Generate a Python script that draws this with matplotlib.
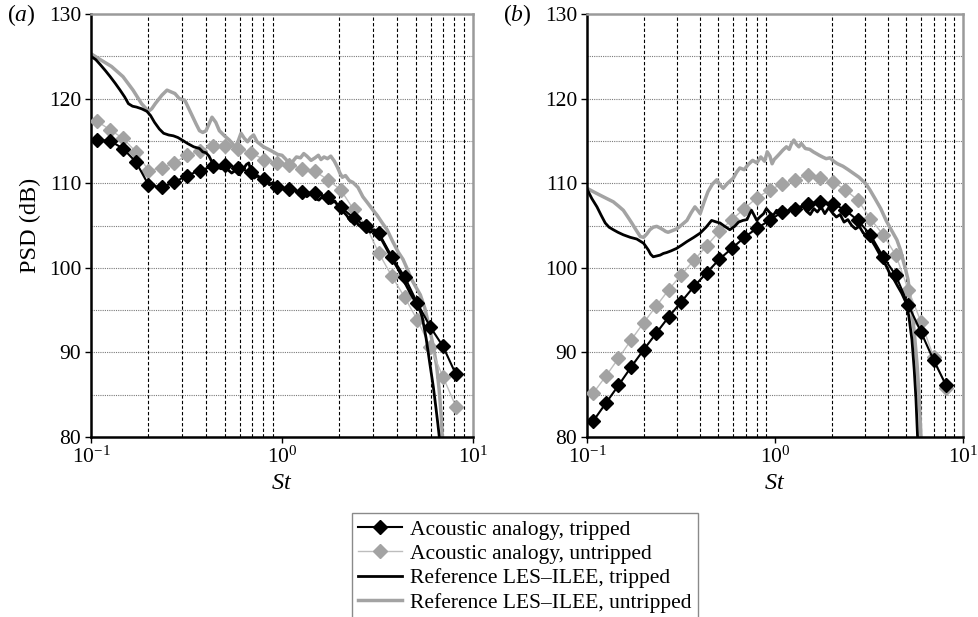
import matplotlib
matplotlib.use('Agg')
import matplotlib.pyplot as plt
from matplotlib.ticker import FixedLocator, LogLocator, NullFormatter

plt.rcParams['font.family'] = ['Liberation Serif', 'DejaVu Serif']
plt.rcParams['mathtext.fontset'] = 'custom'
plt.rcParams['mathtext.rm'] = 'Liberation Serif'
plt.rcParams['mathtext.it'] = 'Liberation Serif:italic'
plt.rcParams['mathtext.bf'] = 'Liberation Serif:bold'

# Strouhal numbers of the acoustic-analogy points (shared by both panels)
st_aa = [0.108, 0.126, 0.147, 0.172, 0.200, 0.234, 0.272, 0.318, 0.371, 0.433,
         0.505, 0.590, 0.688, 0.803, 0.937, 1.09, 1.28, 1.49, 1.74, 2.03,
         2.37, 2.76, 3.22, 3.76, 4.39, 5.12, 5.98, 6.97, 8.14]

# panel (a)
aa_trip_a = [115.1, 115.0, 114.1, 112.5, 109.8, 109.5, 110.1, 110.9, 111.5, 112.0,
             112.2, 111.8, 111.3, 110.5, 109.5, 109.3, 109.0, 108.8, 108.4, 107.2,
             105.9, 104.9, 104.1, 101.3, 98.9, 95.8, 93.0, 90.7, 87.4]
aa_untrip_a = [117.3, 116.3, 115.3, 113.7, 111.5, 111.8, 112.4, 113.3, 113.8, 114.4,
               114.4, 114.1, 113.6, 112.8, 112.4, 112.2, 111.7, 111.4, 110.4, 109.2,
               106.9, 104.9, 101.7, 99.0, 96.5, 93.8, 90.6, 87.1, 83.6]

st_les_trip_a = [0.100, 0.106, 0.112, 0.119, 0.126, 0.134, 0.142, 0.150, 0.157, 0.165,
                 0.173, 0.184, 0.196, 0.205, 0.215, 0.228, 0.240, 0.255, 0.270, 0.285,
                 0.300, 0.320, 0.345, 0.370, 0.385, 0.400, 0.415, 0.430, 0.445, 0.460,
                 0.480, 0.500, 0.520, 0.545, 0.570, 0.600, 0.625, 0.650, 0.670, 0.690,
                 0.715, 0.745, 0.775, 0.800, 0.830, 0.860, 0.900, 0.940, 0.980, 1.02,
                 1.07, 1.12, 1.17, 1.23, 1.29, 1.35, 1.42, 1.49, 1.56, 1.64,
                 1.72, 1.80, 1.89, 1.98, 2.08, 2.18, 2.29, 2.40, 2.52, 2.64,
                 2.77, 2.90, 3.05, 3.20, 3.35, 3.52, 3.70, 3.88, 4.07, 4.27,
                 4.48, 4.70, 4.93, 5.17, 5.42, 5.68, 5.95, 6.20, 6.40, 6.55,
                 6.70, 6.78]
les_trip_a = [125.0, 124.6, 124.0, 123.3, 122.6, 121.8, 121.0, 120.2, 119.4, 119.1,
              119.0, 118.8, 118.5, 118.0, 117.2, 116.4, 115.9, 115.7, 115.6, 115.4,
              115.1, 114.7, 114.3, 114.1, 113.7, 113.6, 113.2, 112.5, 112.0, 111.9,
              111.7, 112.0, 111.6, 111.2, 111.5, 111.0, 111.6, 112.2, 112.4, 111.3,
              110.6, 110.9, 110.3, 111.0, 110.2, 109.8, 110.1, 109.5, 109.8, 109.3,
              109.6, 109.0, 109.2, 108.6, 108.9, 108.4, 108.8, 108.2, 108.0, 108.5,
              107.8, 107.6, 107.9, 107.2, 106.7, 106.2, 105.5, 105.8, 105.0, 105.3,
              104.6, 104.2, 104.5, 103.7, 103.2, 102.3, 101.4, 100.6, 99.8, 98.8,
              97.9, 97.0, 96.2, 95.5, 94.2, 91.7, 88.6, 85.9, 83.4, 81.5,
              79.5, 78.0]

st_les_untrip_a = [0.100, 0.112, 0.128, 0.147, 0.166, 0.184, 0.200, 0.208, 0.217, 0.235,
                   0.250, 0.262, 0.275, 0.290, 0.310, 0.335, 0.355, 0.370, 0.385, 0.400,
                   0.415, 0.430, 0.450, 0.470, 0.500, 0.530, 0.570, 0.590, 0.610, 0.635,
                   0.660, 0.685, 0.710, 0.740, 0.770, 0.800, 0.850, 0.900, 0.950, 1.00,
                   1.05, 1.10, 1.15, 1.19, 1.25, 1.30, 1.35, 1.42, 1.49, 1.55,
                   1.60, 1.66, 1.73, 1.80, 1.88, 1.95, 2.01, 2.07, 2.15, 2.25,
                   2.35, 2.50, 2.65, 2.80, 3.00, 3.15, 3.35, 3.55, 3.80, 4.05,
                   4.30, 4.50, 4.75, 5.00, 5.30, 5.60, 5.90, 6.20, 6.45, 6.65,
                   6.80, 6.95]
les_untrip_a = [125.3, 124.6, 123.8, 122.6, 121.0, 119.4, 118.5, 118.8, 119.4, 120.4,
                121.0, 120.8, 120.6, 120.0, 119.8, 118.2, 117.0, 116.2, 116.0, 116.2,
                117.0, 117.8, 117.2, 116.2, 115.6, 115.1, 114.3, 115.0, 115.9, 115.3,
                114.9, 115.4, 115.7, 114.9, 114.6, 114.3, 114.0, 113.7, 113.4, 113.3,
                112.8, 112.1, 112.7, 113.1, 113.0, 113.5, 113.2, 112.7, 113.0, 113.3,
                112.8, 113.1, 112.9, 113.2, 112.6, 111.9, 111.2, 110.7, 110.9, 110.3,
                110.1, 109.5, 108.4, 107.7, 106.8, 106.2, 105.3, 104.5, 103.1, 101.9,
                101.0, 100.0, 98.7, 97.8, 96.8, 95.2, 93.0, 90.7, 88.4, 85.6,
                82.8, 79.0]

# panel (b)
aa_trip_b = [81.9, 84.0, 86.1, 88.3, 90.3, 92.3, 94.2, 96.0, 97.8, 99.4,
             101.0, 102.3, 103.6, 104.7, 105.6, 106.6, 107.0, 107.6, 107.8, 107.6,
             106.8, 105.6, 103.9, 101.3, 99.1, 95.6, 92.4, 89.1, 86.1]
aa_untrip_b = [85.2, 87.2, 89.3, 91.5, 93.5, 95.5, 97.4, 99.2, 100.9, 102.6,
               104.3, 105.7, 107.0, 108.3, 109.2, 109.9, 110.4, 111.0, 110.6, 110.2,
               109.2, 108.0, 105.8, 103.9, 101.5, 97.4, 93.6, 89.5, 85.8]

st_les_trip_b = [0.100, 0.106, 0.113, 0.119, 0.125, 0.131, 0.138, 0.146, 0.156, 0.170,
                 0.184, 0.200, 0.206, 0.212, 0.218, 0.225, 0.235, 0.245, 0.255, 0.265,
                 0.280, 0.300, 0.320, 0.340, 0.370, 0.400, 0.430, 0.460, 0.490, 0.510,
                 0.540, 0.575, 0.610, 0.640, 0.675, 0.710, 0.730, 0.750, 0.775, 0.800,
                 0.830, 0.870, 0.900, 0.940, 0.980, 1.02, 1.07, 1.12, 1.17, 1.22,
                 1.28, 1.34, 1.40, 1.47, 1.54, 1.61, 1.68, 1.76, 1.84, 1.93,
                 2.02, 2.12, 2.22, 2.33, 2.44, 2.56, 2.68, 2.81, 2.95, 3.10,
                 3.25, 3.40, 3.56, 3.73, 3.91, 4.10, 4.30, 4.50, 4.72, 4.95,
                 5.15, 5.35, 5.50, 5.62, 5.72, 5.80]
les_trip_b = [109.3, 108.2, 107.2, 106.2, 105.3, 104.8, 104.5, 104.2, 103.9, 103.6,
              103.4, 102.9, 102.5, 102.1, 101.6, 101.3, 101.4, 101.5, 101.7, 101.8,
              102.0, 102.3, 102.7, 103.1, 103.6, 104.1, 104.8, 105.6, 105.4, 105.3,
              104.9, 104.5, 104.9, 105.4, 105.6, 105.7, 106.3, 106.8, 106.2, 105.6,
              106.0, 106.4, 107.0, 106.5, 106.2, 106.8, 106.4, 107.0, 106.6, 107.1,
              106.5, 106.9, 107.3, 106.7, 106.3, 107.0, 106.6, 107.2, 106.4, 107.1,
              106.5, 106.0, 106.3, 105.4, 105.7, 105.0, 104.6, 104.9, 104.1, 103.8,
              103.3, 102.6, 101.8, 101.0, 100.2, 99.2, 98.6, 97.8, 97.0, 96.0,
              94.3, 91.5, 88.0, 84.5, 80.5, 77.0]

st_les_untrip_b = [0.100, 0.108, 0.117, 0.127, 0.138, 0.147, 0.156, 0.165, 0.173, 0.182,
                   0.192, 0.200, 0.208, 0.216, 0.225, 0.235, 0.245, 0.254, 0.262, 0.270,
                   0.285, 0.300, 0.320, 0.340, 0.358, 0.375, 0.388, 0.400, 0.420, 0.440,
                   0.465, 0.490, 0.510, 0.530, 0.560, 0.600, 0.625, 0.650, 0.685, 0.720,
                   0.760, 0.800, 0.840, 0.880, 0.910, 0.940, 0.965, 0.990, 1.02, 1.06,
                   1.10, 1.15, 1.19, 1.22, 1.26, 1.30, 1.34, 1.38, 1.45, 1.53,
                   1.60, 1.66, 1.72, 1.79, 1.87, 1.96, 2.05, 2.15, 2.30, 2.45,
                   2.60, 2.80, 3.05, 3.20, 3.40, 3.65, 3.90, 4.15, 4.45, 4.65,
                   4.80, 4.95, 5.10, 5.30, 5.50, 5.70, 5.85, 5.95, 6.02]
les_untrip_b = [109.4, 109.0, 108.6, 108.2, 107.8, 107.3, 106.8, 106.0, 105.3, 104.5,
                103.7, 103.6, 104.0, 104.5, 104.8, 104.9, 104.7, 104.5, 104.3, 104.2,
                104.4, 104.6, 105.1, 105.6, 106.5, 107.2, 106.8, 106.4, 107.8, 109.0,
                109.9, 110.4, 109.8, 109.4, 110.0, 110.6, 111.3, 111.8, 111.6, 112.2,
                112.7, 112.4, 113.1, 112.6, 113.7, 113.2, 112.3, 112.8, 113.1, 113.5,
                113.9, 114.3, 114.0, 114.6, 115.1, 114.6, 114.3, 114.7, 114.1, 114.0,
                113.7, 113.5, 113.3, 113.1, 112.9, 113.0, 112.6, 112.3, 112.0, 111.6,
                111.2, 110.7, 109.9, 109.2, 108.2, 107.0, 105.6, 104.5, 103.3, 102.1,
                100.9, 99.8, 98.6, 95.5, 92.5, 88.5, 84.5, 81.0, 78.0]

labels = ['Acoustic analogy, tripped', 'Acoustic analogy, untripped',
          'Reference LES\u2013ILEE, tripped', 'Reference LES\u2013ILEE, untripped']

GREY = '#a3a3a3'
W, H = 979, 617


def style_axis(ax):
    ax.set_xscale('log')
    ax.set_xlim(0.1, 10)
    ax.set_ylim(80, 130)
    ax.yaxis.set_major_locator(FixedLocator([80, 90, 100, 110, 120, 130]))
    ax.yaxis.set_minor_locator(FixedLocator([85, 95, 105, 115, 125]))
    ax.xaxis.set_minor_locator(LogLocator(base=10, subs=range(2, 10)))
    ax.xaxis.set_minor_formatter(NullFormatter())
    for y in [85, 90, 95, 100, 105, 110, 115, 120, 125]:
        ax.axhline(y, color='#7a7a7a', lw=0.8, ls=(0, (1, 1)), zorder=0)
    ax.grid(True, which='minor', axis='x', color='black', lw=0.8, ls=(0, (3, 2)), zorder=0)
    ax.tick_params(which='major', direction='out', length=4, width=1, labelsize=15.5, pad=3)
    ax.tick_params(which='minor', length=0)
    for side in ['left', 'bottom']:
        ax.spines[side].set_linewidth(1.8)
        ax.spines[side].set_color('black')
    for side in ['top', 'right']:
        ax.spines[side].set_linewidth(1.8)
        ax.spines[side].set_color('#9a9a9a')
    ax.set_xlabel('$St$', fontsize=17.5, labelpad=4)


def draw(ax, aa_trip, aa_untrip, st_lt, les_t, st_lu, les_u):
    h1, = ax.plot(st_aa, aa_trip, color='black', lw=1.5, marker='D', ms=7,
                  mfc='black', mec='black', zorder=4)
    h2, = ax.plot(st_aa, aa_untrip, color='#bdbdbd', lw=1.0, marker='D', ms=7,
                  mfc=GREY, mec=GREY, zorder=3)
    h3, = ax.plot(st_lt, les_t, color='black', lw=2.0, zorder=5)
    h4, = ax.plot(st_lu, les_u, color=GREY, lw=2.5, zorder=2)
    return [h1, h2, h3, h4]


fig = plt.figure(figsize=(W / 100, H / 100), dpi=100)
ax_a = fig.add_axes([91 / W, 1 - 437 / H, 382 / W, 423 / H])
ax_b = fig.add_axes([587 / W, 1 - 437 / H, 376 / W, 423 / H])

handles = draw(ax_a, aa_trip_a, aa_untrip_a, st_les_trip_a, les_trip_a,
               st_les_untrip_a, les_untrip_a)
draw(ax_b, aa_trip_b, aa_untrip_b, st_les_trip_b, les_trip_b,
     st_les_untrip_b, les_untrip_b)

style_axis(ax_a)
style_axis(ax_b)
ax_a.set_ylabel('PSD (dB)', fontsize=17.5, labelpad=6)

fig.text(7 / W, 1 - 15 / H, '($a$)', fontsize=17, ha='left', va='center')
fig.text(503 / W, 1 - 15 / H, '($b$)', fontsize=17, ha='left', va='center')

leg = fig.legend(handles, labels, loc='upper left',
                 bbox_to_anchor=(352 / W, 1 - 513 / H), borderaxespad=0,
                 fontsize=15.5, frameon=True, fancybox=False, framealpha=1,
                 edgecolor='#8a8a8a', handlelength=2.0, handletextpad=0.4,
                 labelspacing=0.2, borderpad=0.3)
leg.get_frame().set_linewidth(1.0)

fig.savefig('out.png', dpi=100)
